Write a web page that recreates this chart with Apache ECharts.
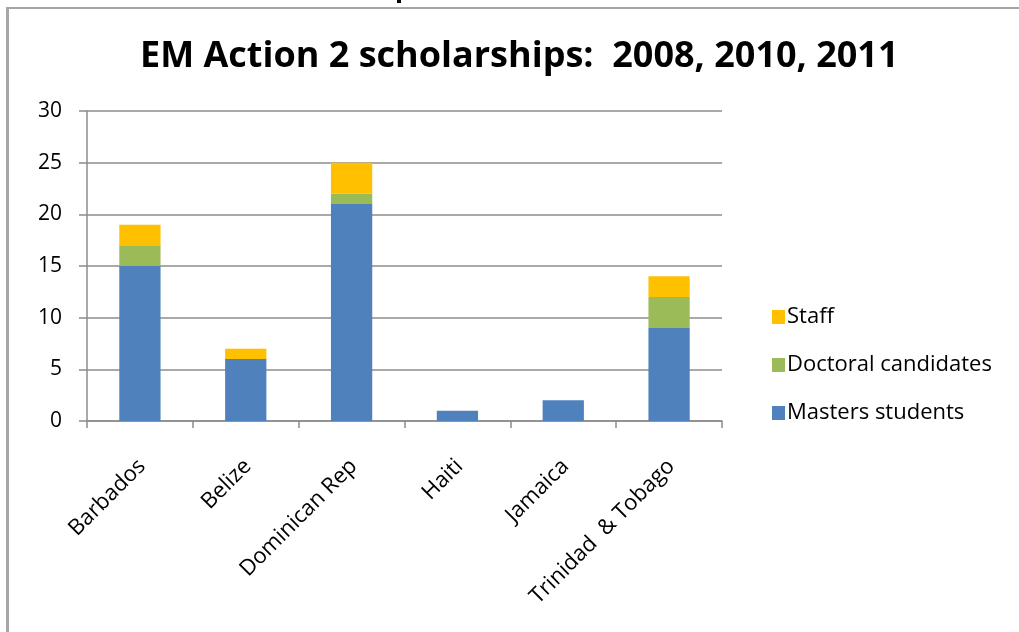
<!DOCTYPE html>
<html>
<head>
<meta charset="utf-8">
<script src="https://cdn.jsdelivr.net/npm/echarts@6/dist/echarts.min.js"></script>
<style>html,body{margin:0;padding:0;background:#fff;}#c{width:1019px;height:632px;}</style>
</head>
<body>
<div id="c"></div>
<script>
const categories = ['Barbados', 'Belize', 'Dominican Rep', 'Haiti', 'Jamaica', 'Trinidad  & Tobago'];
const masters = [15, 6, 21, 1, 2, 9];
const doctoral = [2, 0, 1, 0, 0, 3];
const staff = [2, 1, 3, 0, 0, 2];
const yTicks = [0, 5, 10, 15, 20, 25, 30];

const FONT = '"Open Sans", "Noto Sans", sans-serif';
const chart = echarts.init(document.getElementById('c'), null, {renderer: 'canvas'});
const gridColor = '#8c8c8c';
chart.setOption({
  animation: false,
  backgroundColor: '#ffffff',
  title: {
    text: 'EM Action 2 scholarships:  2008, 2010, 2011',
    left: 135, top: 34,
    textStyle: {fontFamily: FONT, fontWeight: 'bold', fontSize: 36, color: '#000'}
  },
  legend: {
    orient: 'vertical',
    left: 767, top: 301,
    itemWidth: 13, itemHeight: 14, itemGap: 26,
    icon: 'rect',
    data: ['Staff', 'Doctoral candidates', 'Masters students'],
    textStyle: {fontFamily: FONT, fontSize: 22, color: '#000', padding: [0, 0, 0, -3]}
  },
  grid: {left: 87, right: 297, top: 111, bottom: 211, containLabel: false},
  xAxis: {
    type: 'category',
    data: categories,
    boundaryGap: true,
    axisLine: {show: true, lineStyle: {color: gridColor, width: 1.5}},
    axisTick: {show: true, length: 7, lineStyle: {color: gridColor, width: 1.5}},
    axisLabel: {rotate: 45, margin: 44, fontFamily: FONT, fontSize: 22, color: '#000', interval: 0,
                padding: [0, -3, 0, 0]}
  },
  yAxis: {
    type: 'value',
    min: yTicks[0], max: yTicks[yTicks.length - 1], interval: 5,
    axisLine: {show: true, lineStyle: {color: gridColor, width: 1.5}},
    axisTick: {show: true, length: 8, lineStyle: {color: gridColor, width: 1.5}},
    splitLine: {show: true, lineStyle: {color: gridColor, width: 1.5}},
    axisLabel: {margin: 25, fontFamily: FONT, fontSize: 21, color: '#000'}
  },
  series: [
    {name: 'Masters students', type: 'bar', stack: 's', data: masters, barWidth: '39%',
     itemStyle: {color: '#4F81BD'}},
    {name: 'Doctoral candidates', type: 'bar', stack: 's', data: doctoral, barWidth: '39%',
     itemStyle: {color: '#9BBB59'}},
    {name: 'Staff', type: 'bar', stack: 's', data: staff, barWidth: '39%',
     itemStyle: {color: '#FFC000'}}
  ],
  graphic: [
    {type: 'rect', shape: {x: 7, y: 7, width: 1012, height: 2}, style: {fill: '#a6a6a6'}, silent: true},
    {type: 'rect', shape: {x: 6, y: 7, width: 3, height: 625}, style: {fill: '#a6a6a6'}, silent: true},
    {type: 'rect', shape: {x: 397, y: 0, width: 4, height: 3}, style: {fill: '#000'}, silent: true}
  ]
});
</script>
</body>
</html>
